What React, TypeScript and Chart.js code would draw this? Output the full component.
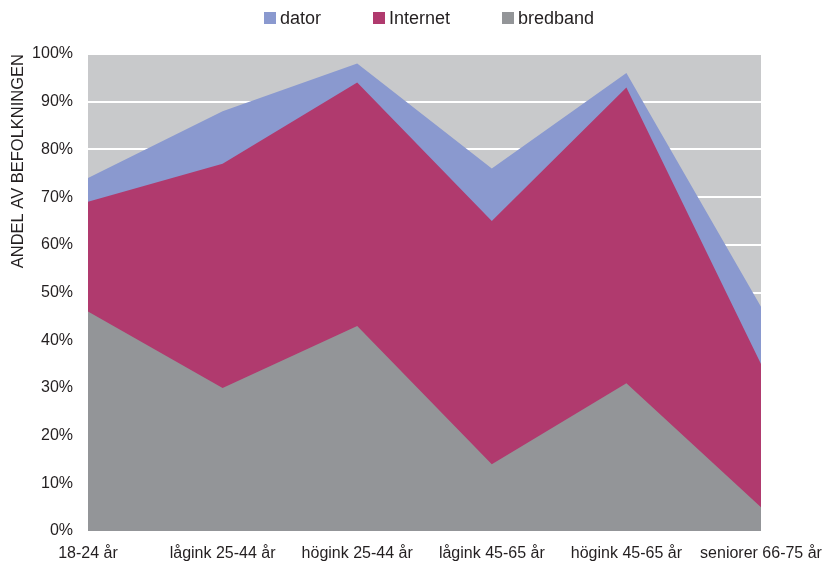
import React, { useEffect, useRef } from "react";
import { Chart, registerables } from "chart.js";

Chart.register(...registerables);

const categories = ["18-24 år", "lågink 25-44 år", "högink 25-44 år", "lågink 45-65 år", "högink 45-65 år", "seniorer 66-75 år"];
const dator = [74, 88, 98, 76, 96, 47];
const internet = [69, 77, 94, 65, 93, 35];
const bredband = [46, 30, 43, 14, 31, 5];
const yTitle = "ANDEL AV BEFOLKNINGEN";

const FONT = "'Liberation Sans', Arial, sans-serif";
const TEXT = "#231F20";

const legendItems = [
  { label: "dator", color: "#8A99CF", box: 264, text: 280 },
  { label: "Internet", color: "#B03A6E", box: 373, text: 389 },
  { label: "bredband", color: "#939598", box: 502, text: 518 },
];

const bgPlugin = {
  id: "plotBg",
  beforeDraw(chart: any) {
    const { ctx, chartArea } = chart;
    ctx.save();
    ctx.fillStyle = "#C8C9CB";
    ctx.fillRect(chartArea.left, chartArea.top, chartArea.right - chartArea.left, chartArea.bottom - chartArea.top);
    ctx.restore();
  },
};

export default function App() {
  const ref = useRef<HTMLCanvasElement>(null);
  useEffect(() => {
    const prevMargin = document.body.style.margin;
    document.body.style.margin = "0";
    const mk = (label: string, data: number[], color: string) => ({
      label,
      data,
      backgroundColor: color,
      borderColor: color,
      borderWidth: 0,
      pointRadius: 0,
      tension: 0,
      fill: "origin",
    });
    const chart = new Chart(ref.current!, {
      type: "line",
      data: {
        labels: categories,
        datasets: [
          mk("bredband", bredband, "#939598"),
          mk("Internet", internet, "#B03A6E"),
          mk("dator", dator, "#8A99CF"),
        ],
      },
      options: {
        animation: false,
        responsive: false,
        maintainAspectRatio: false,
        layout: { padding: { top: 54, right: 68, bottom: 0, left: 0 } },
        plugins: { legend: { display: false }, tooltip: { enabled: false } },
        scales: {
          x: {
            offset: false,
            afterFit(scale: any) {
              scale.height = 34;
            },
            grid: {
              display: true,
              drawOnChartArea: false,
              drawTicks: true,
              tickLength: 13,
              tickColor: "rgba(0,0,0,0)",
              color: "rgba(0,0,0,0)",
            },
            border: { display: false },
            ticks: {
              autoSkip: false,
              maxRotation: 0,
              minRotation: 0,
              padding: 0,
              color: TEXT,
              font: { family: FONT, size: 16 },
            },
          },
          y: {
            min: 0,
            max: 100,
            afterFit(scale: any) {
              scale.width = 88;
            },
            grid: { color: "#FFFFFF", lineWidth: 2, drawTicks: false },
            border: { display: false },
            ticks: {
              stepSize: 10,
              padding: 15,
              color: TEXT,
              font: { family: FONT, size: 16 },
              callback: (v: any) => v + "%",
            },
            title: {
              display: true,
              text: yTitle,
              align: "end",
              color: TEXT,
              font: { family: FONT, size: 16.5 },
              padding: { top: 9, bottom: 0 },
            },
          },
        },
      } as any,
      plugins: [bgPlugin],
    });
    return () => {
      chart.destroy();
      document.body.style.margin = prevMargin;
    };
  }, []);

  return (
    <div style={{ position: "absolute", left: 0, top: 0, width: 829, height: 565, background: "#fff" }}>
      <canvas ref={ref} width={829} height={565} style={{ position: "absolute", left: 0, top: 0, width: 829, height: 565 }} />
      {legendItems.map((it) => (
        <React.Fragment key={it.label}>
          <div style={{ position: "absolute", left: it.box, top: 12, width: 12, height: 12, background: it.color }} />
          <span
            style={{
              position: "absolute",
              left: it.text,
              top: 7,
              fontFamily: FONT,
              fontSize: 18,
              lineHeight: "22px",
              color: TEXT,
              whiteSpace: "nowrap",
            }}
          >
            {it.label}
          </span>
        </React.Fragment>
      ))}
    </div>
  );
}
